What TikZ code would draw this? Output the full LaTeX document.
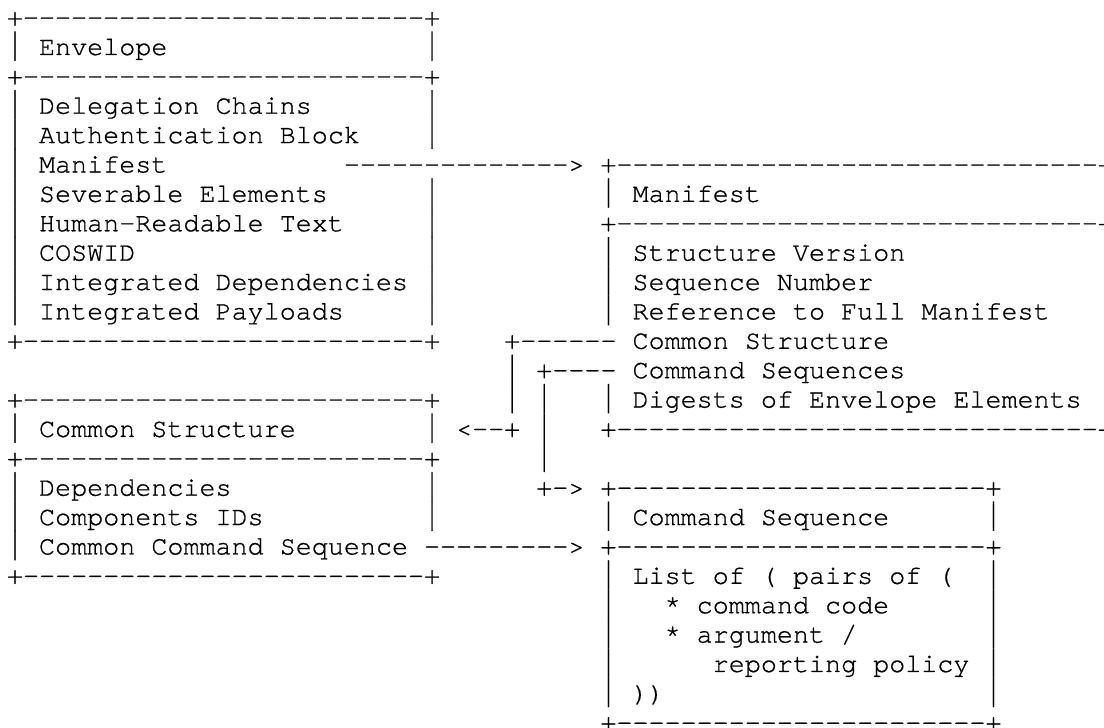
\documentclass[tikz,border=0pt]{standalone}
\usepackage{fontspec}
\newfontfamily\asciifont{TeX Gyre Cursor}[Ligatures=TeXOff,FakeBold=0.8]
\ExplSyntaxOn
\cs_new_eq:NN \Rep \prg_replicate:nn
\ExplSyntaxOff
% character grid (in px): cell width, left offset, row pitch, baseline of row 1
\def\cw{16.04}
\def\xo{6.98}
\def\rp{29.38}
\def\bo{25.6}
\tikzset{
  asc/.style={anchor=base west, inner sep=0pt, outer sep=0pt,
    font=\asciifont\fontsize{13.37pt}{14pt}\selectfont},
}
% a bar glyph stretched to almost the full row pitch so that stacked bars join up
\newcommand\tallbar{\raisebox{-2.85pt}{\resizebox*{\width}{14.55pt}{\raisebox{\depth}{|}}}}
% one run of characters starting at a given column and row
\newcommand\cell[4]{\node[asc] (#1) at ({\xo+\cw*#2},{\bo+\rp*(#3-1)}) {#4};}
% a horizontal frame line: + followed by n dashes and a closing +
\newcommand\edge[4]{\cell{#1}{#2}{#3}{+\Rep{#4}{-}+}}
\newcommand\vbar[3]{\cell{#1}{#2}{#3}{\tallbar}}
\begin{document}
\begin{tikzpicture}[x=0.5pt,y=-0.5pt]
\useasboundingbox (0,0) rectangle (1104,728);
\clip (0,0) rectangle (1104,728);

% ---- Envelope ----
\edge{envTop}{0}{1}{25}
\vbar{envL2}{0}{2}\cell{envTitle}{2}{2}{Envelope}\vbar{envR2}{26}{2}
\edge{envMid}{0}{3}{25}
\foreach \r in {4,...,11}{\vbar{envL\r}{0}{\r}}
\foreach \r in {4,5,7,8,9,10,11}{\vbar{envR\r}{26}{\r}}
\cell{envDel}{2}{4}{Delegation Chains}
\cell{envAuth}{2}{5}{Authentication Block}
\cell{envMan}{2}{6}{Manifest}
\cell{envSev}{2}{7}{Severable Elements}
\cell{envHum}{2}{8}{Human-Readable Text}
\cell{envCos}{2}{9}{COSWID}
\cell{envDep}{2}{10}{Integrated Dependencies}
\cell{envPay}{2}{11}{Integrated Payloads}
\edge{envBot}{0}{12}{25}

% Envelope.Manifest -> Manifest
\cell{arrMan}{21}{6}{\Rep{14}{-}>}

% ---- Manifest ----
\edge{manTop}{37}{6}{30}
\foreach \r in {7,9,10,11,14}{\vbar{manL\r}{37}{\r}}
\foreach \r in {7,9,10,11,12,13,14}{\vbar{manR\r}{68}{\r}}
\cell{manTitle}{39}{7}{Manifest}
\edge{manMid}{37}{8}{30}
\cell{manVer}{39}{9}{Structure Version}
\cell{manSeq}{39}{10}{Sequence Number}
\cell{manRef}{39}{11}{Reference to Full Manifest}
\cell{manCom}{39}{12}{Common Structure}
\cell{manCmd}{39}{13}{Command Sequences}
\cell{manDig}{39}{14}{Digests of Envelope Elements}
\edge{manBot}{37}{15}{30}

% Manifest.Common Structure -> Common Structure
\cell{linkA}{31}{12}{+\Rep{6}{-}}
\vbar{linkA13}{31}{13}
\vbar{linkA14}{31}{14}
\cell{arrCom}{28}{15}{<--+}

% Manifest.Command Sequences -> Command Sequence
\cell{linkB}{33}{13}{+\Rep{4}{-}}
\vbar{linkB14}{33}{14}
\vbar{linkB15}{33}{15}
\vbar{linkB16}{33}{16}
\cell{arrCmd}{33}{17}{+->}

% ---- Common Structure ----
\edge{comTop}{0}{14}{25}
\vbar{comL15}{0}{15}\cell{comTitle}{2}{15}{Common Structure}\vbar{comR15}{26}{15}
\edge{comMid}{0}{16}{25}
\foreach \r in {17,18,19}{\vbar{comL\r}{0}{\r}}
\foreach \r in {17,18}{\vbar{comR\r}{26}{\r}}
\cell{comDep}{2}{17}{Dependencies}
\cell{comIds}{2}{18}{Components IDs}
\cell{comCcs}{2}{19}{Common Command Sequence}
\edge{comBot}{0}{20}{25}

% Common Command Sequence -> Command Sequence
\cell{arrCcs}{26}{19}{\Rep{9}{-}>}

% ---- Command Sequence ----
\edge{cmdTop}{37}{17}{23}
\vbar{cmdL18}{37}{18}\cell{cmdTitle}{39}{18}{Command Sequence}\vbar{cmdR18}{61}{18}
\edge{cmdMid}{37}{19}{23}
\foreach \r in {20,...,24}{\vbar{cmdL\r}{37}{\r}\vbar{cmdR\r}{61}{\r}}
\cell{cmdList}{39}{20}{List of ( pairs of (}
\cell{cmdCode}{41}{21}{* command code}
\cell{cmdArg}{41}{22}{* argument /}
\cell{cmdPol}{44}{23}{reporting policy}
\cell{cmdEnd}{39}{24}{))}
\edge{cmdBot}{37}{25}{23}
\end{tikzpicture}
\end{document}
